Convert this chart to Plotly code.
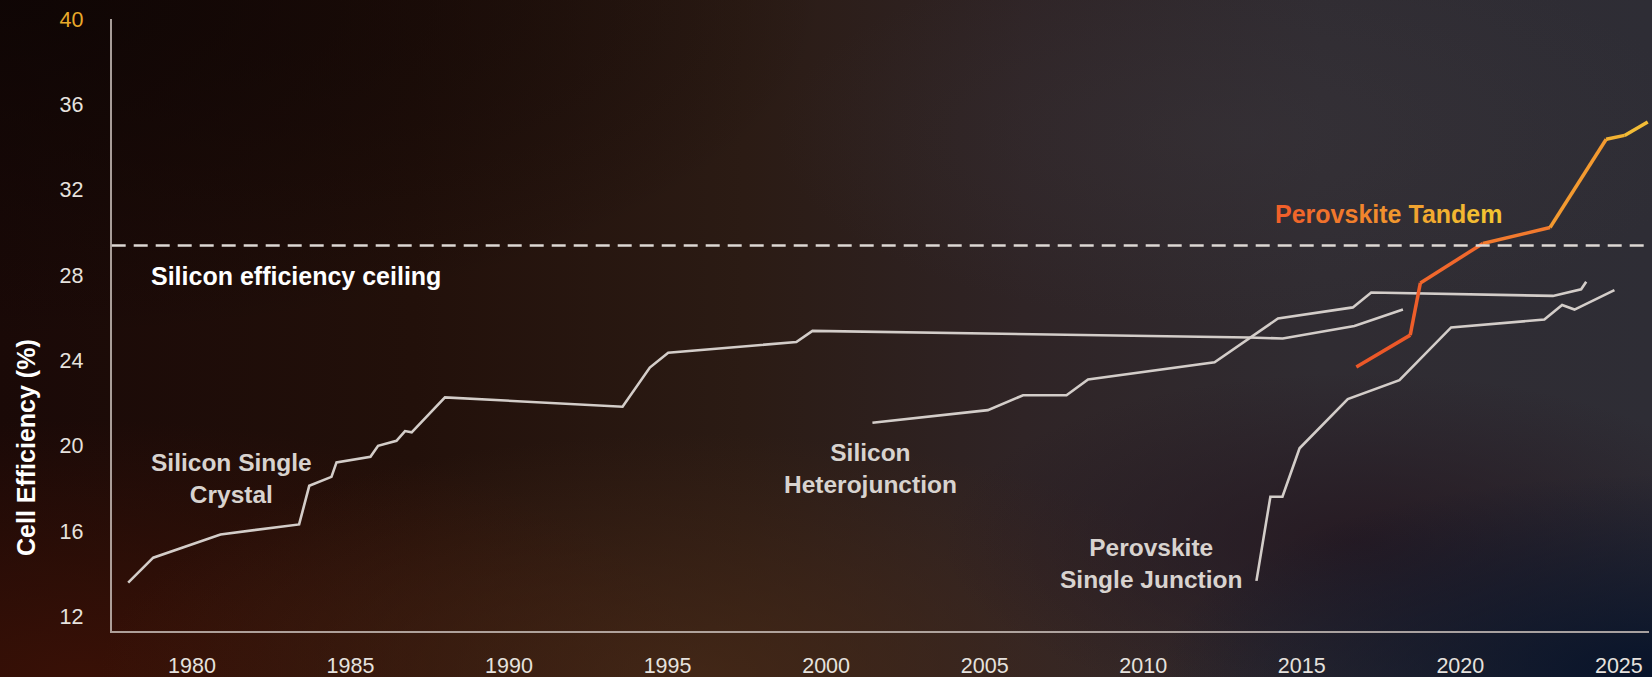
import base64
import plotly.graph_objects as go

# ---- data: record cell efficiencies (%) by year ----
si_crystal_year = [1977.99, 1978.78, 1980.90, 1983.38, 1983.70, 1984.40, 1984.56, 1985.63,
                   1985.87, 1986.45, 1986.72, 1986.93, 1987.98, 1993.58, 1994.44, 1995.02,
                   1999.06, 1999.57, 2013.35, 2014.40, 2016.66, 2018.19]
si_crystal_eff = [13.58, 14.75, 15.84, 16.31, 18.12, 18.54, 19.22, 19.48,
                  20.00, 20.23, 20.69, 20.63, 22.27, 21.83, 23.67, 24.36,
                  24.87, 25.39, 25.08, 25.03, 25.62, 26.39]

si_hj_year = [2001.46, 2005.10, 2006.21, 2007.58, 2008.26, 2012.25, 2014.25, 2016.61,
              2017.19, 2022.92, 2023.81, 2023.97]
si_hj_eff = [21.08, 21.67, 22.37, 22.37, 23.11, 23.92, 25.97, 26.49,
             27.19, 27.03, 27.34, 27.69]

pvk_sj_year = [2013.57, 2014.01, 2014.39, 2014.93, 2016.45, 2018.08, 2019.71, 2022.65,
               2023.21, 2023.60, 2024.86]
pvk_sj_eff = [13.66, 17.61, 17.61, 19.88, 22.19, 23.08, 25.55, 25.92,
              26.60, 26.39, 27.30]

tandem_year = [2016.72, 2018.42, 2018.74, 2020.71, 2022.83, 2024.60, 2025.18, 2025.91]
tandem_eff = [23.70, 25.19, 27.64, 29.49, 30.24, 34.38, 34.56, 35.19]
# colour of each tandem segment, running from red-orange up to amber
tandem_seg_colors = ["#ec5828", "#ee5e2a", "#f1682c", "#f27a2e", "#f39a30", "#f2b232", "#f2bc36"]

SILICON_LIMIT = 29.4

x_ticks = [1980, 1985, 1990, 1995, 2000, 2005, 2010, 2015, 2020, 2025]
y_ticks = [12, 16, 20, 24, 28, 32, 36, 40]

# ---- styling ----
FONT = "Liberation Sans, Arial, sans-serif"
GREY_LINE = "#d3cdc9"
LABEL_GREY = "#d8d3cf"
TICK_COL = "#e6e2de"


def lerp_hex(c1, c2, t):
    a = [int(c1[i:i + 2], 16) for i in (1, 3, 5)]
    b = [int(c2[i:i + 2], 16) for i in (1, 3, 5)]
    return "#" + "".join(f"{round(a[k] + (b[k] - a[k]) * t):02x}" for k in range(3))


def gradient_text(text, c1, c2):
    n = max(len(text) - 1, 1)
    return "".join(
        ch if ch == " " else f"<span style='color:{lerp_hex(c1, c2, i / n)}'>{ch}</span>"
        for i, ch in enumerate(text)
    )


# background: layered gradients rendered as an SVG image
svg = """<svg xmlns='http://www.w3.org/2000/svg' width='1652' height='677' viewBox='0 0 1652 677' preserveAspectRatio='none'>
<defs>
<linearGradient id='base' x1='0' y1='0' x2='1' y2='0'>
<stop offset='0' stop-color='#1a0907'/>
<stop offset='0.25' stop-color='#22100a'/>
<stop offset='0.45' stop-color='#2b1b14'/>
<stop offset='0.62' stop-color='#2f2426'/>
<stop offset='0.8' stop-color='#302c32'/>
<stop offset='1' stop-color='#2e2d35'/>
</linearGradient>
<radialGradient id='dark' cx='0' cy='0' r='0.5'>
<stop offset='0' stop-color='#0d0504' stop-opacity='0.85'/>
<stop offset='1' stop-color='#0d0504' stop-opacity='0'/>
</radialGradient>
<radialGradient id='red' cx='0.05' cy='1' r='0.38'>
<stop offset='0' stop-color='#3c1106' stop-opacity='0.9'/>
<stop offset='1' stop-color='#3c1106' stop-opacity='0'/>
</radialGradient>
<radialGradient id='warm' cx='0.42' cy='1' r='0.36'>
<stop offset='0' stop-color='#4a2b18' stop-opacity='0.75'/>
<stop offset='1' stop-color='#4a2b18' stop-opacity='0'/>
</radialGradient>
<radialGradient id='plum' cx='0.82' cy='0.8' r='0.25'>
<stop offset='0' stop-color='#24161f' stop-opacity='0.8'/>
<stop offset='1' stop-color='#24161f' stop-opacity='0'/>
</radialGradient>
<radialGradient id='navy' cx='1' cy='1' r='0.3'>
<stop offset='0' stop-color='#07132a' stop-opacity='1'/>
<stop offset='1' stop-color='#07132a' stop-opacity='0'/>
</radialGradient>
<radialGradient id='haze' cx='0.75' cy='0.2' r='0.28'>
<stop offset='0' stop-color='#3c383e' stop-opacity='0.35'/>
<stop offset='1' stop-color='#3c383e' stop-opacity='0'/>
</radialGradient>
</defs>
<rect width='1652' height='677' fill='url(#base)'/>
<rect width='1652' height='677' fill='url(#dark)'/>
<rect width='1652' height='677' fill='url(#red)'/>
<rect width='1652' height='677' fill='url(#warm)'/>
<rect width='1652' height='677' fill='url(#plum)'/>
<rect width='1652' height='677' fill='url(#navy)'/>
<rect width='1652' height='677' fill='url(#haze)'/>
</svg>"""
bg_uri = "data:image/svg+xml;base64," + base64.b64encode(svg.encode()).decode()

fig = go.Figure()

for xs, ys in [(si_crystal_year, si_crystal_eff), (si_hj_year, si_hj_eff), (pvk_sj_year, pvk_sj_eff)]:
    fig.add_trace(go.Scatter(x=xs, y=ys, mode="lines",
                             line=dict(color=GREY_LINE, width=2.6),
                             hoverinfo="skip", showlegend=False))

for i, col in enumerate(tandem_seg_colors):
    fig.add_trace(go.Scatter(x=tandem_year[i:i + 2], y=tandem_eff[i:i + 2], mode="lines",
                             line=dict(color=col, width=3.5),
                             hoverinfo="skip", showlegend=False))

fig.add_shape(type="line", xref="x domain", x0=0, x1=1, yref="y", y0=SILICON_LIMIT, y1=SILICON_LIMIT,
              line=dict(color="#ddd8d4", width=2.5, dash="14px,8px"), layer="above")

label_font = dict(family=FONT, size=24.5, color=LABEL_GREY, weight="bold")
annotations = [
    dict(x=1978.66, y=27.95, text="Silicon efficiency ceiling", xanchor="left", yanchor="middle",
         font=dict(family=FONT, size=25, color="#ffffff", weight="bold")),
    dict(x=1981.25, y=18.45, text="Silicon Single<br>Crystal", font=label_font),
    dict(x=2001.41, y=18.95, text="Silicon<br>Heterojunction", font=label_font),
    dict(x=2010.23, y=14.48, text="Perovskite<br>Single Junction", font=label_font),
    dict(x=2017.75, y=30.86, text=gradient_text("Perovskite Tandem", "#f0602a", "#f2c232"),
         font=dict(family=FONT, size=25, color="#f08a2c", weight="bold")),
    dict(xref="paper", yref="paper", x=26 / 1652, y=1 - 448 / 677, text="Cell Efficiency (%)",
         xanchor="center", yanchor="middle",
         textangle=-90, font=dict(family=FONT, size=25, color="#ffffff", weight="bold")),
]
for a in annotations:
    a.setdefault("xref", "x")
    a.setdefault("yref", "y")
    a.setdefault("showarrow", False)
    a.setdefault("align", "center")
    fig.add_annotation(**a)

y_text = [str(v) for v in y_ticks]
y_text[-1] = f"<span style='color:#e9a92a'>{y_ticks[-1]}</span>"

fig.update_layout(
    width=1652, height=677,
    margin=dict(l=0, r=0, t=0, b=0),
    paper_bgcolor="#1c0d09",
    plot_bgcolor="rgba(0,0,0,0)",
    template="none",
    images=[dict(source=bg_uri, xref="paper", yref="paper", x=0, y=1, sizex=1, sizey=1,
                 xanchor="left", yanchor="top", sizing="stretch", layer="below")],
    xaxis=dict(domain=[111.7 / 1652, 1649 / 1652], range=[1977.47, 2025.95],
               tickvals=x_ticks, ticks="", ticklabelstandoff=14,
               showgrid=False, zeroline=False, showline=True,
               linecolor="rgba(205,195,190,0.8)", linewidth=2, automargin=False,
               tickfont=dict(family=FONT, size=21.5, color=TICK_COL)),
    yaxis=dict(domain=[1 - 631 / 677, 1 - 19 / 677], range=[11.31, 40.02],
               tickvals=y_ticks, ticktext=y_text, ticks="", ticklabelstandoff=22,
               showgrid=False, zeroline=False, showline=True,
               linecolor="rgba(205,195,190,0.8)", linewidth=2, automargin=False,
               tickfont=dict(family=FONT, size=21.5, color=TICK_COL)),
)

fig.write_html("out.html")
